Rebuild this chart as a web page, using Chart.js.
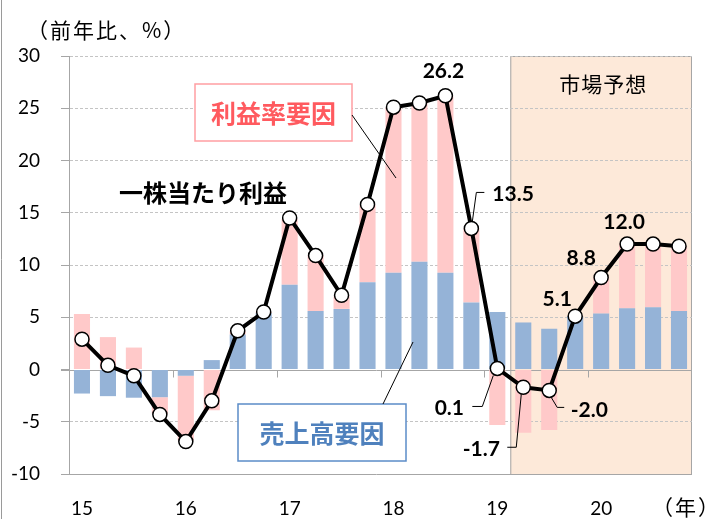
<!DOCTYPE html>
<html>
<head>
<meta charset="utf-8">
<script src="https://cdn.jsdelivr.net/npm/chart.js@4"></script>
<style>
    html, body { margin: 0; padding: 0; background: #fff; }
    #wrap { width: 719px; height: 519px; position: relative; }
</style>
</head>
<body>
<div id="wrap"><canvas id="epsChart"></canvas></div>
<script>
// quarters 2015Q1 .. 2020Q4
const quarters = [
    '15Q1', '15Q2', '15Q3', '15Q4',
    '16Q1', '16Q2', '16Q3', '16Q4',
    '17Q1', '17Q2', '17Q3', '17Q4',
    '18Q1', '18Q2', '18Q3', '18Q4',
    '19Q1', '19Q2', '19Q3', '19Q4',
    '20Q1', '20Q2', '20Q3', '20Q4'
];
const yearLabels = ['15', '16', '17', '18', '19', '20'];

// 売上高要因
const salesFactor = [
    -2.3, -2.55, -2.7, -2.65,
    -0.6, 0.9, 3.35, 5.4,
    8.1, 5.6, 5.8, 8.35,
    9.25, 10.3, 9.25, 6.4,
    5.5, 4.5, 3.9, 5.1,
    5.35, 5.85, 5.95, 5.6
];
// 利益率要因
const marginFactor = [
    5.3, 3.1, 2.1, -1.6,
    -6.2, -3.9, 0.3, 0.1,
    6.3, 5.3, 1.2, 7.4,
    15.8, 15.2, 16.9, 7.1,
    -5.3, -6.05, -5.8, 0,
    3.45, 6.2, 6.1, 6.2
];
// 一株当たり利益
const eps = [
    2.9, 0.4, -0.6, -4.3,
    -6.9, -3.0, 3.7, 5.5,
    14.5, 10.9, 7.1, 15.8,
    25.1, 25.5, 26.2, 13.5,
    0.1, -1.7, -2.0, 5.1,
    8.8, 12.0, 12.0, 11.8
];
const forecastStart = '19Q2';
const labelledQuarters = ['18Q3', '18Q4', '19Q1', '19Q2', '19Q3', '19Q4', '20Q1', '20Q2'];

const NUM_FONT = 'Lato, "Liberation Sans", sans-serif';
const JP_FONT = '"Noto Sans CJK JP", sans-serif';

// label placement: offset of text from the point, optional leader polyline (offsets too)
const labelStyle = {
    '18Q3': { dx: -2, dy: -24, align: 'center' },
    '18Q4': { dx: 21, dy: -34, align: 'left', leader: [[1, -7], [5, -36], [13, -36]] },
    '19Q1': { dx: -48, dy: 40, align: 'center', leader: [[-4, 7], [-15, 38], [-25, 38]] },
    '19Q2': { dx: -42, dy: 62, align: 'center', leader: [[-2, 7], [-7, 60], [-16, 60]] },
    '19Q3': { dx: 40, dy: 20, align: 'center', leader: [[2, 7], [8, 17], [15, 17]] },
    '19Q4': { dx: -18, dy: -17, align: 'center' },
    '20Q1': { dx: -20, dy: -19, align: 'center' },
    '20Q2': { dx: -3, dy: -22, align: 'center' }
};

function drawBox(ctx, x, y, w, h, text, color, border) {
    ctx.save();
    ctx.fillStyle = '#fff';
    ctx.fillRect(x, y, w, h);
    ctx.strokeStyle = border;
    ctx.lineWidth = 1.5;
    ctx.strokeRect(x, y, w, h);
    ctx.fillStyle = color;
    ctx.font = 'bold 25px ' + JP_FONT;
    ctx.textAlign = 'center';
    ctx.textBaseline = 'middle';
    ctx.fillText(text, x + w / 2, y + h / 2 + 1);
    ctx.restore();
}

const decorPlugin = {
    id: 'decor',
    beforeDraw(chart) {
        const { ctx, chartArea: a, scales: { x } } = chart;
        const half = (x.getPixelForValue(1) - x.getPixelForValue(0)) / 2;
        const x0 = x.getPixelForValue(quarters.indexOf(forecastStart)) - half;
        ctx.save();
        ctx.fillStyle = '#FDE9D9';
        ctx.fillRect(x0, a.top, a.right - x0, a.bottom - a.top);
        ctx.strokeStyle = '#A6A6A6';
        ctx.lineWidth = 1;
        ctx.strokeRect(x0 + 0.5, a.top + 0.5, a.right - x0 - 1, a.bottom - a.top);
        ctx.fillStyle = '#000';
        ctx.font = '21px ' + JP_FONT;
        ctx.letterSpacing = '1px';
        ctx.textAlign = 'center';
        ctx.textBaseline = 'middle';
        ctx.fillText('市場予想', (x0 + a.right) / 2 + 2, a.top + 28);
        // outer frame edge
        ctx.strokeStyle = '#9A9A9A';
        ctx.beginPath();
        ctx.moveTo(1.5, 0);
        ctx.lineTo(1.5, chart.height);
        ctx.stroke();
        ctx.restore();
    },
    beforeDatasetsDraw(chart) {
        const { ctx, chartArea: a, scales: { x, y } } = chart;
        const y0 = Math.round(y.getPixelForValue(0)) + 0.5;
        const yb = Math.round(y.getPixelForValue(-10)) + 0.5;
        const half = (x.getPixelForValue(1) - x.getPixelForValue(0)) / 2;
        ctx.save();
        ctx.strokeStyle = '#A6A6A6';
        ctx.lineWidth = 1;
        ctx.beginPath();
        ctx.moveTo(a.left - 8, y0);
        ctx.lineTo(a.right, y0);
        ctx.moveTo(a.left - 8, yb);
        ctx.lineTo(a.right, yb);
        quarters.forEach((q, i) => {
            if (i > 0 && q.endsWith('Q1')) {
                const xt = Math.round(x.getPixelForValue(i) - half) + 0.5;
                ctx.moveTo(xt, y0);
                ctx.lineTo(xt, y0 + 7);
            }
        });
        ctx.stroke();
        ctx.restore();
    },
    afterDraw(chart) {
        const { ctx, scales: { x, y } } = chart;
        ctx.save();

        // unit labels
        ctx.fillStyle = '#000';
        ctx.font = '21px ' + JP_FONT;
        ctx.letterSpacing = '2px';
        ctx.textBaseline = 'middle';
        ctx.textAlign = 'left';
        ctx.fillText('（前年比、%）', 27, 30);
        ctx.fillText('（年）', 652, 507);
        ctx.letterSpacing = '0px';

        // series names
        drawBox(ctx, 195, 84, 157, 57, '利益率要因', '#FF5A5F', '#FF9EA2');
        drawBox(ctx, 238, 404, 168, 57, '売上高要因', '#4F81BD', '#5B8CC8');
        ctx.fillStyle = '#000';
        ctx.font = 'bold 24px ' + JP_FONT;
        ctx.textAlign = 'center';
        ctx.fillText('一株当たり利益', 203, 193);

        ctx.strokeStyle = '#000';
        ctx.lineWidth = 1;
        ctx.beginPath();
        ctx.moveTo(352, 115);
        ctx.lineTo(396, 178);
        ctx.moveTo(383, 404);
        ctx.lineTo(413, 342);
        ctx.stroke();

        // value labels
        ctx.font = 'bold 21px ' + NUM_FONT;
        labelledQuarters.forEach(q => {
            const i = quarters.indexOf(q);
            const s = labelStyle[q];
            const px = x.getPixelForValue(i);
            const py = y.getPixelForValue(eps[i]);
            if (s.leader) {
                ctx.beginPath();
                s.leader.forEach(([dx, dy], k) => {
                    if (k === 0) ctx.moveTo(px + dx, py + dy);
                    else ctx.lineTo(px + dx, py + dy);
                });
                ctx.stroke();
            }
            ctx.textAlign = s.align;
            ctx.fillText(eps[i].toFixed(1), px + s.dx, py + s.dy);
        });
        ctx.restore();
    }
};

new Chart(document.getElementById('epsChart'), {
    type: 'bar',
    data: {
        labels: quarters,
        datasets: [
            {
                type: 'line',
                label: '一株当たり利益',
                data: eps,
                borderColor: '#000',
                borderWidth: 4,
                pointRadius: 7,
                pointBackgroundColor: '#fff',
                pointBorderColor: '#000',
                pointBorderWidth: 1.5,
                tension: 0,
                order: 0
            },
            {
                label: '売上高要因',
                data: salesFactor,
                backgroundColor: '#95B3D7',
                barPercentage: 0.62,
                categoryPercentage: 1,
                order: 1
            },
            {
                label: '利益率要因',
                data: marginFactor,
                backgroundColor: '#FFC9C9',
                barPercentage: 0.62,
                categoryPercentage: 1,
                order: 2
            }
        ]
    },
    options: {
        responsive: true,
        maintainAspectRatio: false,
        animation: false,
        layout: { padding: { top: 56, right: 27, left: 0, bottom: 0 } },
        plugins: {
            legend: { display: false },
            tooltip: { enabled: false }
        },
        scales: {
            x: {
                stacked: true,
                offset: true,
                grid: { display: false },
                border: { display: false },
                ticks: {
                    autoSkip: false,
                    maxRotation: 0,
                    color: '#000',
                    padding: 15,
                    font: { family: NUM_FONT, size: 19 },
                    callback: (v, i) => quarters[i].endsWith('Q1') ? yearLabels[Math.floor(i / 4)] : ''
                },
                afterFit: s => { s.height = 45; }
            },
            y: {
                stacked: true,
                min: -10,
                max: 30,
                ticks: {
                    stepSize: 5,
                    color: '#000',
                    padding: 21,
                    font: { family: NUM_FONT, size: 19 }
                },
                grid: {
                    color: ctx => (ctx.tick.value === 0 || ctx.tick.value === -10) ? 'rgba(0,0,0,0)' : '#C4C4C4',
                    tickColor: '#A6A6A6',
                    tickLength: 8
                },
                border: { color: '#A6A6A6', dash: [3, 2] },
                afterFit: s => { s.width = 69; }
            }
        }
    },
    plugins: [decorPlugin]
});
</script>
</body>
</html>
